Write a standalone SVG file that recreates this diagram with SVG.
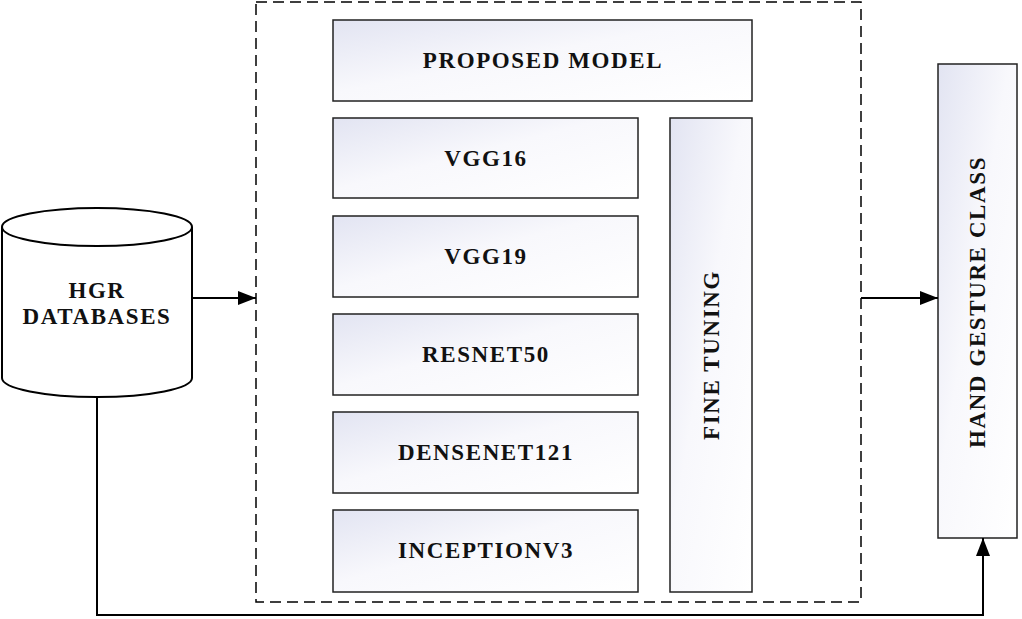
<svg xmlns="http://www.w3.org/2000/svg" width="1022" height="619" viewBox="0 0 1022 619">
<style>
.b{stroke:#222;stroke-width:1.5;fill:url(#g)}
.t{font-family:"Liberation Serif",serif;font-weight:bold;font-size:23px;letter-spacing:1.6px;text-anchor:middle;fill:#111}
.c{stroke:#000;stroke-width:2;fill:none}
</style>
<defs>
<linearGradient id="g" x1="0" y1="0" x2="1" y2="1"><stop offset="0" stop-color="#e2e4f2"/><stop offset="0.45" stop-color="#f8f8fc"/><stop offset="1" stop-color="#ffffff"/></linearGradient>
<marker id="a" viewBox="0 0 10 10" refX="10" refY="5" markerWidth="18" markerHeight="14" markerUnits="userSpaceOnUse" orient="auto" preserveAspectRatio="none"><path d="M0,0L10,5L0,10z" fill="#000"/></marker>
</defs>
<rect id="container" x="256" y="2" width="605" height="600" fill="none" stroke="#000" stroke-width="1.5" stroke-dasharray="11,6"/>
<g id="hgr"><path d="M2,227 V378 A95,19 0 0 0 192,378 V227" fill="#fff" stroke="#000" stroke-width="2"/><ellipse cx="97" cy="227" rx="95" ry="19" fill="#fff" stroke="#000" stroke-width="2"/>
<text class="t" x="97" y="298">HGR</text><text class="t" x="97" y="324">DATABASES</text></g>
<g id="proposed"><rect class="b" x="333" y="20" width="419" height="81"/><text class="t" x="543" y="68">PROPOSED MODEL</text></g>
<g id="vgg16"><rect class="b" x="333" y="118" width="305" height="80"/><text class="t" x="486" y="166">VGG16</text></g>
<g id="vgg19"><rect class="b" x="333" y="216" width="305" height="81"/><text class="t" x="486" y="264">VGG19</text></g>
<g id="resnet"><rect class="b" x="333" y="314" width="305" height="81"/><text class="t" x="486" y="362">RESNET50</text></g>
<g id="densenet"><rect class="b" x="333" y="412" width="305" height="81"/><text class="t" x="486" y="460">DENSENET121</text></g>
<g id="inception"><rect class="b" x="333" y="510" width="305" height="82"/><text class="t" x="486" y="558">INCEPTIONV3</text></g>
<g id="fine"><rect class="b" x="670" y="118" width="82" height="474"/><text class="t" transform="translate(719,355) rotate(-90)">FINE TUNING</text></g>
<g id="class"><rect class="b" x="938" y="64" width="79" height="474"/><text class="t" transform="translate(985,302) rotate(-90)">HAND GESTURE CLASS</text></g>
<g id="connectors">
<path class="c" d="M192,298H256" marker-end="url(#a)"/>
<path class="c" d="M861,298H938" marker-end="url(#a)"/>
<path class="c" d="M97,396V615H983V538" marker-end="url(#a)"/>
</g>
</svg>
